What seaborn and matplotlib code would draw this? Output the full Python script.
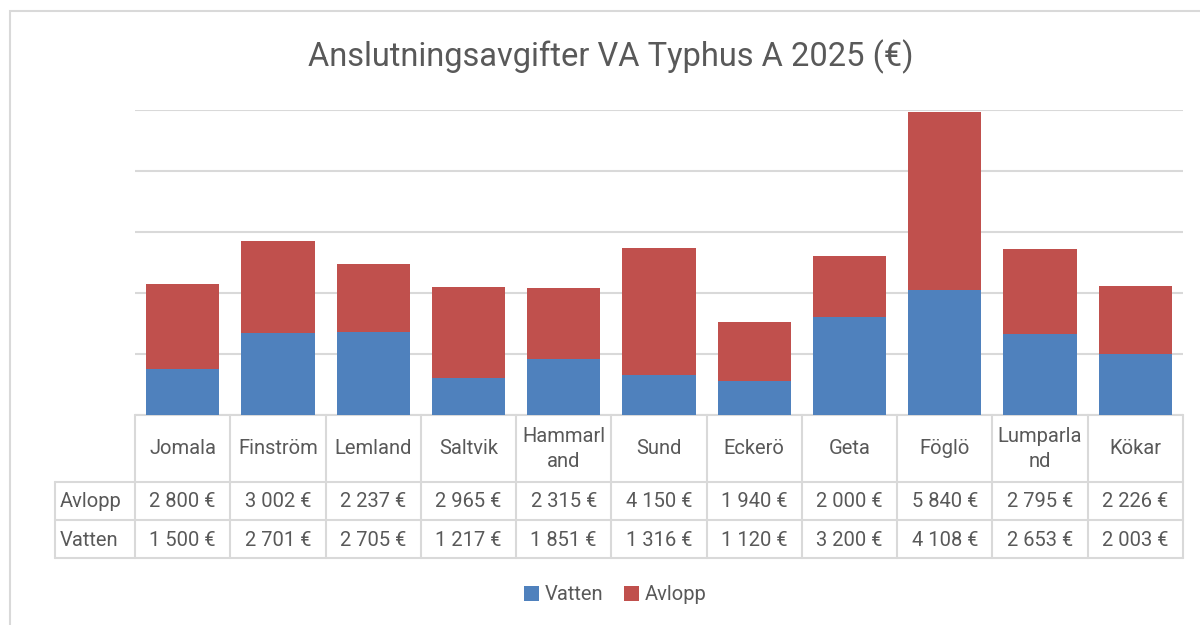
import matplotlib
matplotlib.use("Agg")
import matplotlib.pyplot as plt
import seaborn as sns
import pandas as pd
from matplotlib.patches import Rectangle
from matplotlib.transforms import blended_transform_factory

categories = ["Jomala", "Finström", "Lemland", "Saltvik", "Hammarland", "Sund",
              "Eckerö", "Geta", "Föglö", "Lumparland", "Kökar"]
header_labels = ["Jomala", "Finström", "Lemland", "Saltvik", "Hammarl\nand", "Sund",
                 "Eckerö", "Geta", "Föglö", "Lumparla\nnd", "Kökar"]
vatten = [1500, 2701, 2705, 1217, 1851, 1316, 1120, 3200, 4108, 2653, 2003]
avlopp = [2800, 3002, 2237, 2965, 2315, 4150, 1940, 2000, 5840, 2795, 2226]
title = "Anslutningsavgifter VA Typhus A 2025 (€)"

BLUE = "#4F81BD"
RED = "#C0504D"
TXT = "#595959"
GRID = "#D9D9D9"

sns.set_theme(style="white")
plt.rcParams["font.family"] = ["Roboto", "DejaVu Sans"]

df = pd.DataFrame({"kommun": categories, "Vatten": vatten, "Avlopp": avlopp})

W, H = 1200, 625
fig = plt.figure(figsize=(W / 100, H / 100), dpi=100)
ax_l, ax_r, ax_t, ax_b = 135, 1183, 110, 415
ax = fig.add_axes([ax_l / W, (H - ax_b) / H, (ax_r - ax_l) / W, (ax_b - ax_t) / H])

sns.barplot(data=df, x="kommun", y="Avlopp", bottom=df["Vatten"], color=RED,
            width=0.77, saturation=1, ax=ax, zorder=3, label="Avlopp", linewidth=0)
sns.barplot(data=df, x="kommun", y="Vatten", color=BLUE, width=0.77,
            saturation=1, ax=ax, zorder=3, label="Vatten", linewidth=0)

ax.set_ylim(0, 10000)
ax.set_xlim(-0.5, len(categories) - 0.5)
ax.set_yticks(range(0, 10001, 2000))
ax.yaxis.grid(True, color=GRID, linewidth=1.5, zorder=0)
ax.set_yticklabels([])
ax.set_xticks([])
ax.set_xlabel("")
ax.set_ylabel("")
for s in ax.spines.values():
    s.set_visible(False)
ax.tick_params(left=False, bottom=False)

# chart border
fig.patches.append(Rectangle((10 / W, -0.1), 1.2, (H - 11) / H + 0.1,
                             transform=fig.transFigure, fill=False,
                             edgecolor=GRID, linewidth=1.5))

fig.text(0.509, 1 - 56.5 / H, title, ha="center", va="center", fontsize=23.5, color=TXT)

# data table
tr = blended_transform_factory(ax.transData, fig.transFigure)
def fy(p):
    return 1 - p / H

n = len(categories)
x_left_label = -0.5 - (135 - 55) / ((ax_r - ax_l) / n)
rows_y = [415, 482, 520, 558]
lw = 1.5
ax_kw = dict(transform=tr, color=GRID, linewidth=lw, clip_on=False)
ax.plot([-0.5, n - 0.5], [fy(415), fy(415)], **ax_kw)
for yy in rows_y[1:]:
    ax.plot([x_left_label, n - 0.5], [fy(yy), fy(yy)], **ax_kw)
for i in range(n + 1):
    ax.plot([i - 0.5, i - 0.5], [fy(415), fy(558)], **ax_kw)
ax.plot([x_left_label, x_left_label], [fy(482), fy(558)], **ax_kw)

fs = 14.5
for i, lab in enumerate(header_labels):
    ax.text(i, fy(449), lab, transform=tr, ha="center", va="center",
            fontsize=fs, color=TXT, linespacing=1.45, clip_on=False)
def fmt(v):
    return f"{v:,}".replace(",", " ") + " €"
for name, vals, yc in [("Avlopp", avlopp, 501.5), ("Vatten", vatten, 540.5)]:
    ax.text(x_left_label + 0.05, fy(yc), name, transform=tr, ha="left", va="center",
            fontsize=fs, color=TXT, clip_on=False)
    for i, v in enumerate(vals):
        ax.text(i, fy(yc), fmt(v), transform=tr, ha="center", va="center",
                fontsize=fs, color=TXT, clip_on=False)

# legend
handles, labels = ax.get_legend_handles_labels()
order = [labels.index("Vatten"), labels.index("Avlopp")]
fig.legend([handles[k] for k in order], [labels[k] for k in order],
           loc="center", bbox_to_anchor=(615 / W, fy(595)), ncol=2, frameon=False,
           fontsize=fs, labelcolor=TXT, handlelength=0.75, handleheight=0.75,
           handletextpad=0.3, columnspacing=1.0)
if ax.get_legend() is not None:
    ax.get_legend().remove()

fig.savefig("out.png", dpi=100, facecolor="white")
